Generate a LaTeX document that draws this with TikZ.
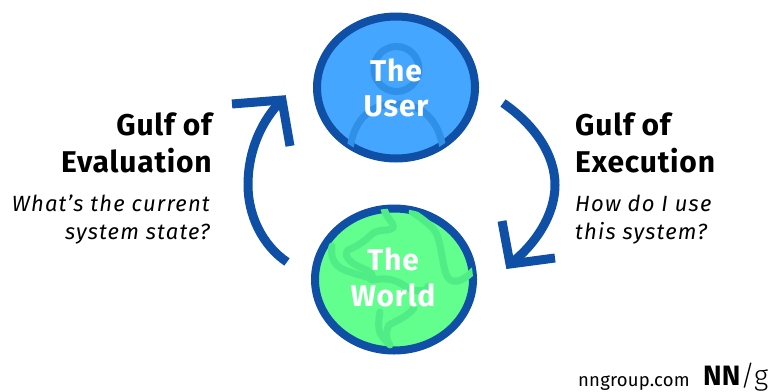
\documentclass[tikz,border=0pt]{standalone}
\usepackage{fontspec}
\setmainfont{Fira Sans}
\definecolor{ringblue}{HTML}{0F4FA6}
\definecolor{userfill}{HTML}{45A6FF}
\definecolor{usermark}{HTML}{308FE6}
\definecolor{worldfill}{HTML}{62FF8E}
\definecolor{worldmark}{HTML}{50EC86}
\usetikzlibrary{shapes.geometric}
\tikzset{
  ring/.style={draw=ringblue,line width=8pt,ellipse,inner sep=0pt,minimum width=158pt,minimum height=142pt},
  head/.style={font=\fontsize{30}{35}\selectfont\bfseries\addfontfeature{LetterSpace=2.7},inner sep=0pt,align=left},
  sub/.style={font=\fontsize{22}{29}\selectfont\itshape\addfontfeature{LetterSpace=5.5},inner sep=0pt},
  inside/.style={font=\fontsize{30}{36}\selectfont\bfseries\addfontfeature{LetterSpace=2.7},text=white,inner sep=0pt},
  cycle arrow/.style={draw=ringblue,line width=9pt},
  land/.style={draw=worldmark,line width=7pt,line join=round,line cap=round},
  person/.style={draw=usermark,line width=7pt}
}
\begin{document}
\begin{tikzpicture}[x=1pt,y=-1pt]
\useasboundingbox (0,0) rectangle (771,391);
% user
\node[ring,fill=userfill] (user) at (396,87.5) {};
\begin{scope}
\clip (396,87.5) ellipse (79pt and 71pt);
\draw[person] (396.5,69) circle (22.5pt);
\draw[person] (349,165) .. controls (349,120) and (370,104) .. (396,104) .. controls (422,104) and (444,120) .. (444,165);
\end{scope}
\node[inside] (usertxt1) at (396,70) {The};
\node[inside] (usertxt2) at (396,106) {User};
% world
\node[ring,fill=worldfill] (world) at (394,279.5) {};
\begin{scope}
\clip (394,279.5) ellipse (79pt and 71pt);
\draw[land] (383,205) .. controls (386,220) and (396,224) .. (393,228) .. controls (388,232) and (380,228) .. (372,234) .. controls (366,240) and (358,246) .. (348,250) .. controls (342,256) and (352,264) .. (362,268) .. controls (372,272) and (374,276) .. (372,280);
\draw[land] (332,246) .. controls (330,260) and (336,268) .. (350,272) .. controls (360,276) and (368,276) .. (372,280) .. controls (395,276) and (400,284) .. (412,290) .. controls (424,292) and (428,290) .. (428,286);
\draw[land] (380,312) .. controls (378,322) and (378,332) .. (382,336) .. controls (384,340) and (388,342) .. (390,345);
\draw[land] (414,308) .. controls (408,316) and (398,320) .. (389,325) .. controls (386,330) and (386,336) .. (388,342);
\draw[land] (412,212) .. controls (430,224) and (436,230) .. (438,238) .. controls (442,250) and (442,262) .. (446,274) .. controls (450,284) and (460,286) .. (478,266);
\end{scope}
\node[inside] (usertxt3) at (393,259) {The};
\node[inside] (worldtxt2) at (393,295) {World};
% arrows
\coordinate (ra) at (503,103);
\coordinate (rb) at (510,264);
\coordinate (la) at (287,262);
\coordinate (lb) at (282,100);
\coordinate (rh1) at (502,221);
\coordinate (rh2) at (555,258);
\coordinate (lh1) at (232,104);
\coordinate (lh2) at (290,146);
\draw[cycle arrow] (ra) .. controls (535,125) and (555,155) .. (555,185) .. controls (555,215) and (535,245) .. (rb);
\draw[cycle arrow,line join=miter] (rh1) -- (rb) -- (rh2);
\draw[cycle arrow] (la) .. controls (262,245) and (248,215) .. (248,185) .. controls (248,150) and (262,120) .. (lb);
\draw[cycle arrow,line join=miter] (lh1) -- (lb) -- (lh2);
% labels
\node[head,anchor=base east] (ge1) at (212,135) {Gulf of};
\node[head,anchor=base east] (ge2) at (212,172) {Evaluation};
\node[sub,anchor=base east] (ge3) at (210,211) {What’s the current};
\node[sub,anchor=base east] (ge4) at (210,239) {system state?};
\node[head,anchor=base west] (gx1) at (575,135) {Gulf of};
\node[head,anchor=base west] (gx2) at (575,172) {Execution};
\node[sub,anchor=base west] (gx3) at (575,211) {How do I use};
\node[sub,anchor=base west] (gx4) at (575,239) {this system?};
% footer
\node[inner sep=0pt,anchor=base west,font=\fontsize{18.5}{24}\selectfont\addfontfeature{LetterSpace=1}] (url) at (578,386) {nngroup.com};
\node[inner sep=0pt,anchor=base west,font=\fontsize{28}{30}\selectfont] (logo) at (703,385) {\textbf{NN}\fontspec{Fira Sans Light}/g};
\end{tikzpicture}
\end{document}
